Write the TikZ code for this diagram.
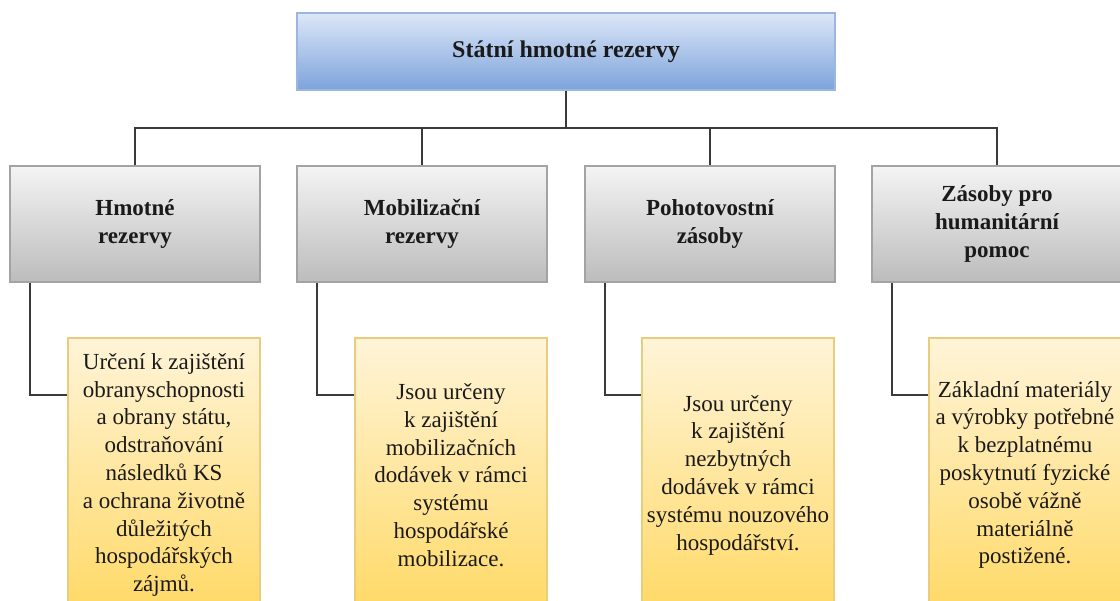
\documentclass[tikz,border=0pt]{standalone}
\usepackage{fontspec}
\setmainfont{Liberation Serif}
\definecolor{blueT}{HTML}{DCE7F8}
\definecolor{blueB}{HTML}{7DA3DB}
\definecolor{blueD}{HTML}{9BB6E0}
\definecolor{grayT}{HTML}{F4F4F4}
\definecolor{grayB}{HTML}{BCBCBC}
\definecolor{grayD}{HTML}{A3A3A3}
\definecolor{yelT}{HTML}{FFF4D8}
\definecolor{yelB}{HTML}{FFD966}
\definecolor{yelD}{HTML}{E9CD7C}
\definecolor{lineC}{HTML}{3A3A3A}
\definecolor{txtC}{HTML}{1A1A1A}
\begin{document}
\begin{tikzpicture}[x=1pt,y=-1pt,
  every node/.style={inner sep=0pt, align=center, text=txtC},
  topbox/.style={draw=blueD, line width=2pt, top color=blueT, bottom color=blueB,
    minimum width=538pt, minimum height=77pt, font=\bfseries\fontsize{24}{28}\selectfont},
  catbox/.style={draw=grayD, line width=2.5pt, top color=grayT, bottom color=grayB,
    minimum width=250pt, minimum height=116pt, font=\bfseries\fontsize{23}{27.8}\selectfont},
  descbox/.style={draw=yelD, line width=1.5pt, top color=yelT, bottom color=yelB,
    minimum width=192pt, minimum height=274pt, font=\fontsize{23}{27.8}\selectfont},
  conn/.style={draw=lineC, line width=2pt}]
\path[use as bounding box] (0,0) rectangle (1120,601);
\clip (0,0) rectangle (1120,601);

\node[topbox] (top) at (566,51.5) {Státní hmotné rezervy};

\node[catbox] (g1) at (135,224) {Hmotné\\rezervy};
\node[catbox] (g2) at (422,224) {Mobilizační\\rezervy};
\node[catbox] (g3) at (710,224) {Pohotovostní\\zásoby};
\node[catbox] (g4) at (997,224) {Zásoby pro\\humanitární\\pomoc};

\node[descbox] (d1) at (164,475) {Určení k zajištění\\obranyschopnosti\\a obrany státu,\\odstraňování\\následků KS\\a ochrana životně\\důležitých\\hospodářských\\zájmů.};
\node[descbox] (d2) at (451,475) {Jsou určeny\\k zajištění\\mobilizačních\\dodávek v rámci\\systému\\hospodářské\\mobilizace.};
\node[descbox] (d3) at (738,475) {Jsou určeny\\k zajištění\\nezbytných\\dodávek v rámci\\systému nouzového\\hospodářství.};
\node[descbox] (d4) at (1025,475) {Základní materiály\\a výrobky potřebné\\k bezplatnému\\poskytnutí fyzické\\osobě vážně\\materiálně\\postižené.};

\coordinate (bus) at (566,128);
\draw[conn] (top.south) -- (bus);
\draw[conn] (g1.north) |- (bus) -| (g4.north);
\draw[conn] (g2.north) -- (g2.north|-bus);
\draw[conn] (g3.north) -- (g3.north|-bus);

\draw[conn] ([xshift=21pt]g1.south west) |- ([yshift=-58pt]d1.north west);
\draw[conn] ([xshift=21pt]g2.south west) |- ([yshift=-58pt]d2.north west);
\draw[conn] ([xshift=21pt]g3.south west) |- ([yshift=-58pt]d3.north west);
\draw[conn] ([xshift=21pt]g4.south west) |- ([yshift=-58pt]d4.north west);
\end{tikzpicture}
\end{document}
